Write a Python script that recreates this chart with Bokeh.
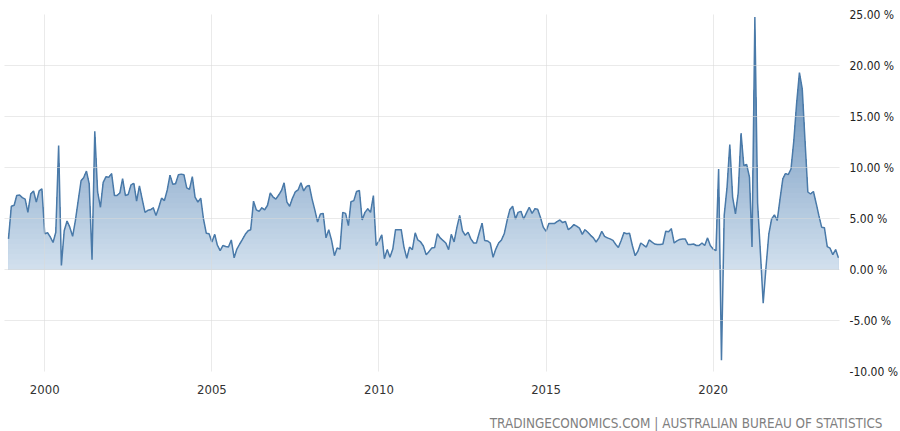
import numpy as np
import pandas as pd
from bokeh.plotting import figure
from bokeh.models import (FixedTicker, PrintfTickFormatter, DatetimeTickFormatter,
                          Title, Range1d)
from bokeh.embed import file_html
from bokeh.resources import INLINE

# ---------------- data (monthly, % YoY) ----------------
START = "1998-12-01"
v_1998 = [3.0]
v_1999 = [6.2, 6.3, 7.25, 7.3, 7.05, 6.9, 5.6, 7.4, 7.7, 6.6, 7.7, 7.9]
v_2000 = [3.5, 3.6, 3.2, 2.65, 3.65, 12.15, 0.4, 3.8, 4.75, 4.15, 3.25, 4.8]
v_2001 = [6.75, 8.7, 9.0, 9.65, 8.4, 0.95, 13.55, 7.6, 6.1, 8.55, 9.1, 9.05]
v_2002 = [9.4, 7.25, 7.25, 7.5, 8.9, 7.25, 7.35, 8.3, 8.45, 6.7, 8.2, 6.9]
v_2003 = [5.6, 5.8, 5.85, 6.05, 5.3, 6.1, 7.0, 6.75, 7.8, 9.25, 8.35, 8.4]
v_2004 = [9.3, 9.35, 9.3, 8.0, 7.85, 9.1, 7.1, 6.6, 7.0, 4.95, 3.55, 3.5]
v_2005 = [2.7, 3.45, 2.4, 1.85, 2.35, 2.25, 2.2, 2.9, 1.15, 2.0, 2.5, 2.95]
v_2006 = [3.45, 3.8, 3.9, 6.7, 5.85, 5.7, 6.05, 5.85, 6.3, 7.5, 7.1, 6.9]
v_2007 = [7.3, 7.75, 8.5, 6.6, 6.2, 7.0, 7.6, 7.8, 8.5, 7.7, 8.15, 8.25]
v_2008 = [6.9, 5.8, 4.65, 5.45, 5.5, 3.1, 3.9, 2.85, 1.35, 2.1, 2.0, 5.6]
v_2009 = [5.5, 4.3, 6.65, 6.75, 7.65, 7.75, 4.85, 5.6, 5.95, 5.6, 7.25, 2.35]
v_2010 = [2.8, 3.4, 1.05, 1.95, 1.2, 2.0, 3.9, 3.9, 3.9, 2.2, 1.1, 2.2]
v_2011 = [1.95, 3.6, 2.9, 2.7, 2.3, 1.45, 1.75, 2.1, 2.15, 3.5, 3.1, 2.85]
v_2012 = [2.6, 1.95, 3.45, 2.7, 4.1, 5.3, 3.8, 3.35, 3.65, 3.0, 2.6, 2.6]
v_2013 = [3.6, 4.55, 2.85, 2.8, 2.6, 1.2, 2.0, 2.6, 2.9, 3.5, 4.8, 5.85]
v_2014 = [6.2, 4.95, 5.6, 5.7, 4.95, 5.55, 6.1, 5.5, 5.95, 5.9, 5.1, 4.15]
v_2015 = [3.75, 4.5, 4.5, 4.5, 4.7, 4.85, 4.6, 4.7, 3.9, 4.1, 4.4, 4.25]
v_2016 = [4.05, 3.45, 3.9, 3.65, 3.35, 3.1, 2.7, 3.1, 3.75, 3.25, 3.1, 3.0]
v_2017 = [2.85, 2.45, 2.15, 2.85, 3.6, 3.5, 3.55, 2.35, 1.35, 1.8, 2.6, 2.4]
v_2018 = [2.2, 2.9, 2.7, 2.5, 2.45, 2.45, 2.5, 3.75, 3.7, 4.0, 2.6, 2.8]
v_2019 = [2.95, 3.0, 3.0, 2.45, 2.45, 2.5, 2.35, 2.35, 2.6, 2.35, 3.1, 2.35]
v_2020 = [2.0, 1.85, 9.85, -8.9, 5.3, 8.05, 12.25, 7.1, 5.45, 7.5, 13.35, 10.2]
v_2021 = [10.3, 9.05, 2.2, 24.75, 6.5, 1.6, -3.3, 0.25, 3.5, 4.95, 5.35, 4.8]
v_2022 = [6.9, 8.9, 9.4, 9.3, 9.85, 12.65, 16.25, 19.3, 17.7, 12.65, 7.6, 7.4]
v_2023 = [7.65, 6.45, 5.3, 4.15, 4.1, 2.25, 2.1, 1.45, 1.95, 1.15]

y_ticks = [-10, -5, 0, 5, 10, 15, 20, 25]
x_tick_years = [2000, 2005, 2010, 2015, 2020]
footer = "TRADINGECONOMICS.COM | AUSTRALIAN BUREAU OF STATISTICS"

values = (v_1998 + v_1999 + v_2000 + v_2001 + v_2002 + v_2003 + v_2004 + v_2005 +
          v_2006 + v_2007 + v_2008 + v_2009 + v_2010 + v_2011 + v_2012 + v_2013 +
          v_2014 + v_2015 + v_2016 + v_2017 + v_2018 + v_2019 + v_2020 + v_2021 +
          v_2022 + v_2023)
dates = pd.date_range(START, periods=len(values), freq="MS")
xs = dates.values.astype("datetime64[ms]").astype(np.int64).astype(float)
vals = np.array(values, dtype=float)

YMIN, YMAX = -10, 25
x_end = xs[-1] + 12 * 24 * 3600 * 1000
one_px = (x_end - xs[0]) / 832.0
x_start = xs[0] - 4 * one_px

p = figure(width=900, height=431, x_axis_type="datetime", y_axis_location="right",
           output_backend="svg", toolbar_location=None,
           x_range=Range1d(x_start, x_end), y_range=Range1d(YMIN, YMAX),
           min_border_left=4, min_border_right=60, min_border_top=14,
           min_border_bottom=60, background_fill_color="white",
           border_fill_color="white")
p.outline_line_color = None


# ---- vertical gradient fill, built from stacked bands of the area ----
def hex2rgb(h):
    return tuple(int(h[i:i + 2], 16) for i in (1, 3, 5))


stops_y = [YMIN, 0, YMAX]
stops_c = [hex2rgb("#eef3f8"), hex2rgb("#d2e0ee"), hex2rgb("#4a7aab")]


def color_at(y):
    rgb = [int(round(np.interp(y, stops_y, [c[k] for c in stops_c]))) for k in range(3)]
    return "#%02x%02x%02x" % tuple(rgb)


def with_crossings(level):
    """Polyline of the series with exact crossing points at `level` and 0."""
    qx, qv = [xs[0]], [vals[0]]
    for i in range(1, len(vals)):
        a, b = vals[i - 1], vals[i]
        cands = []
        for L in {float(level), 0.0}:
            if (a - L) * (b - L) < 0:
                cands.append(((a - L) / (a - b), L))
        for t, L in sorted(cands):
            qx.append(xs[i - 1] + t * (xs[i] - xs[i - 1]))
            qv.append(L)
        qx.append(xs[i])
        qv.append(b)
    return np.array(qx), np.array(qv)


STEP = 0.5
vmax, vmin = vals.max(), vals.min()
for h in np.arange(YMAX, 0, -STEP):            # 25, 24.5, ... 0.5 (top first)
    if vmax <= h - STEP:
        continue
    qx, qv = with_crossings(h)
    p.varea(x=qx, y1=0, y2=np.clip(qv, 0, h), fill_color=color_at(h - STEP / 2))
for h in np.arange(YMIN, 0, STEP):              # -10, -9.5, ... -0.5
    if vmin >= h + STEP:
        continue
    qx, qv = with_crossings(h)
    p.varea(x=qx, y1=np.clip(qv, h, 0), y2=0, fill_color=color_at(h + STEP / 2))

p.line(xs, vals, line_color="#4a7aa9", line_width=1.5)

# axes
font = "DejaVu Sans Condensed"
p.yaxis.ticker = FixedTicker(ticks=y_ticks)
p.yaxis.formatter = PrintfTickFormatter(format="%.2f %%")
p.yaxis.axis_line_color = None
p.yaxis.major_tick_line_color = None
p.yaxis.minor_tick_line_color = None
p.yaxis.major_label_standoff = 4
p.yaxis.major_label_text_font = font
p.yaxis.major_label_text_font_size = "12px"
p.yaxis.major_label_text_color = "#222222"

xt = [pd.Timestamp(f"{y}-01-01").value / 1e6 for y in x_tick_years]
p.xaxis.ticker = FixedTicker(ticks=xt)
p.xaxis.formatter = DatetimeTickFormatter(years="%Y", months="%Y", days="%Y")
p.xaxis.axis_line_color = None
p.xaxis.major_tick_line_color = None
p.xaxis.minor_tick_line_color = None
p.xaxis.major_label_standoff = 7
p.xaxis.major_label_text_font = font
p.xaxis.major_label_text_font_size = "13px"
p.xaxis.major_label_text_color = "#333333"

p.xgrid.ticker = FixedTicker(ticks=xt)
p.ygrid.ticker = FixedTicker(ticks=y_ticks)
for g in (p.xgrid, p.ygrid):
    g.grid_line_color = "#d8d8d8"
    g.grid_line_alpha = 0.55
    g.level = "overlay"

# spacer between the date labels and the source line
p.add_layout(Title(text=" ", standoff=0, text_font=font, text_font_size="13px"), "below")
p.add_layout(Title(text=footer, align="right", offset=-43, standoff=0,
                   text_font=font, text_font_size="13.4px", text_font_style="normal",
                   text_color="#7f7f7f"), "below")

open("out.html", "w").write(file_html(p, INLINE))
